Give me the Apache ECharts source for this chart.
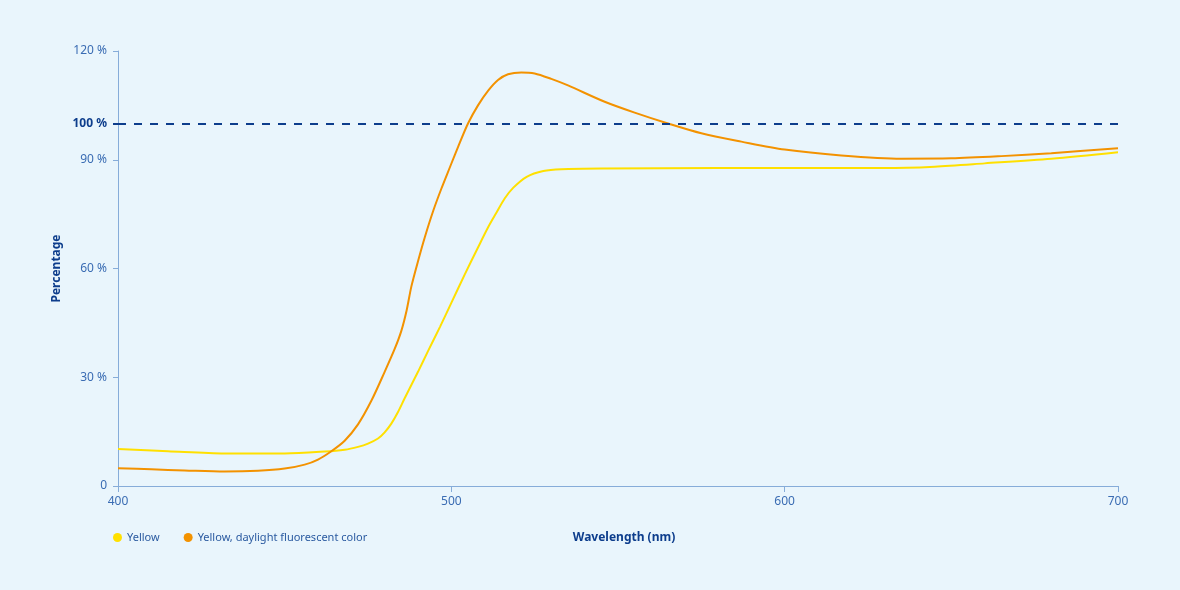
<!DOCTYPE html>
<html>
<head>
<meta charset="utf-8">
<script src="https://cdn.jsdelivr.net/npm/echarts@6/dist/echarts.min.js"></script>
<style>
html,body{margin:0;padding:0;background:#e9f5fc;}
#chart{width:1180px;height:590px;}
</style>
</head>
<body>
<div id="chart"></div>
<script>
const seriesNames = ['Yellow', 'Yellow, daylight fluorescent color'];
const xTicks = [400, 500, 600, 700];
const yTickValues = [0, 30, 60, 90, 120];
const referenceValue = 100;

const yellow = [
  [400,10.2],[415,9.6],[432,9.0],[450,9.0],[462,9.5],[468,10.0],[472,10.8],[475,11.7],
  [478,13.1],[480,14.8],[482,17.2],[484,20.4],[486,24.2],[490,31.5],[493,37.2],[496.6,43.9],
  [500,50.5],[504,58.3],[508,65.8],[511,71.3],[513.6,75.5],[516,79.3],[518.6,82.3],
  [522.6,85.3],[527.6,86.9],[533,87.4],[545,87.6],[580,87.7],[630,87.7],[645,88.1],
  [660,89.0],[680,90.3],[700,92.1]
];
const fluorescent = [
  [400,4.9],[410,4.6],[420,4.3],[432,4.0],[442,4.2],[450,4.8],[456,5.9],[460,7.3],
  [464,9.6],[468,12.5],[472,17],[476,23.5],[480,31.5],[483,37.8],[485,42.8],[486.6,48.5],
  [488,55],[490,62],[492,68.5],[494.6,76],[497,82],[499.6,88],[502,93.5],[505,100],
  [508,105],[511,109],[514,112],[517,113.6],[521,114.1],[525,113.8],[530,112.3],
  [535,110.5],[546,106],[555,103],[565,100],[575,97.3],[587,95],[600,92.8],[617,91.2],
  [635,90.3],[650,90.4],[665,91],[680,91.8],[700,93.2]
];

const FONT = 'Noto Sans';
const labelColor = '#3a6cb3';
const navy = '#0d3d8c';
const axisColor = '#86acd9';

const chart = echarts.init(document.getElementById('chart'), null, {renderer:'canvas'});
chart.setOption({
  backgroundColor: '#e9f5fc',
  animation: false,
  textStyle: {fontFamily: FONT},
  grid: {left: 118, right: 62, top: 51, bottom: 104, containLabel: false},
  legend: {
    left: 108, top: 527,
    icon: 'circle', itemWidth: 9, itemHeight: 9, itemGap: 24,
    textStyle: {color: '#2a5aa0', fontSize: 11, fontFamily: FONT},
    data: seriesNames
  },
  xAxis: {
    type: 'value', min: xTicks[0], max: xTicks[xTicks.length-1], interval: 100,
    name: 'Wavelength (nm)', nameLocation: 'middle', nameGap: 46,
    nameTextStyle: {color: navy, fontWeight: 'bold', fontSize: 12, fontFamily: FONT, padding: [0, 0, 0, 12]},
    axisLine: {lineStyle: {color: axisColor, width: 1}},
    axisTick: {show: true, length: 6, lineStyle: {color: axisColor}},
    axisLabel: {color: labelColor, fontSize: 12, margin: 10, fontFamily: FONT},
    splitLine: {show: false}
  },
  yAxis: [{
    type: 'value', min: 0, max: 120,
    name: 'Percentage', nameLocation: 'middle', nameGap: 47, nameRotate: 90,
    nameTextStyle: {color: navy, fontWeight: 'bold', fontSize: 12, fontFamily: FONT},
    axisLine: {show: true, lineStyle: {color: axisColor, width: 1}},
    axisTick: {show: true, length: 5, customValues: yTickValues, lineStyle: {color: axisColor}},
    axisLabel: {
      color: labelColor, fontSize: 12, margin: 11, fontFamily: FONT,
      customValues: yTickValues,
      formatter: v => v === 0 ? '0' : v + ' %'
    },
    splitLine: {show: false}
  }, {
    type: 'value', min: 0, max: 120, position: 'left',
    axisLine: {show: false},
    axisTick: {show: true, length: 5, customValues: [referenceValue], lineStyle: {color: navy, width: 2}},
    axisLabel: {
      color: navy, fontSize: 12, margin: 11, fontWeight: 'bold', fontFamily: FONT,
      customValues: [referenceValue],
      formatter: v => v + ' %'
    },
    splitLine: {show: false}
  }],
  series: [{
    name: seriesNames[0], type: 'line', data: yellow, smooth: 0.3,
    showSymbol: false, symbol: 'none',
    itemStyle: {color: '#ffe000'},
    lineStyle: {color: '#ffe000', width: 2},
    z: 3
  }, {
    name: seriesNames[1], type: 'line', data: fluorescent, smooth: 0.3,
    showSymbol: false, symbol: 'none',
    itemStyle: {color: '#f39200'},
    lineStyle: {color: '#f39200', width: 2},
    z: 4,
    markLine: {
      silent: true, symbol: 'none',
      label: {show: false},
      lineStyle: {color: navy, type: [8, 8], width: 2},
      data: [{yAxis: referenceValue}]
    }
  }]
});
</script>
</body>
</html>
